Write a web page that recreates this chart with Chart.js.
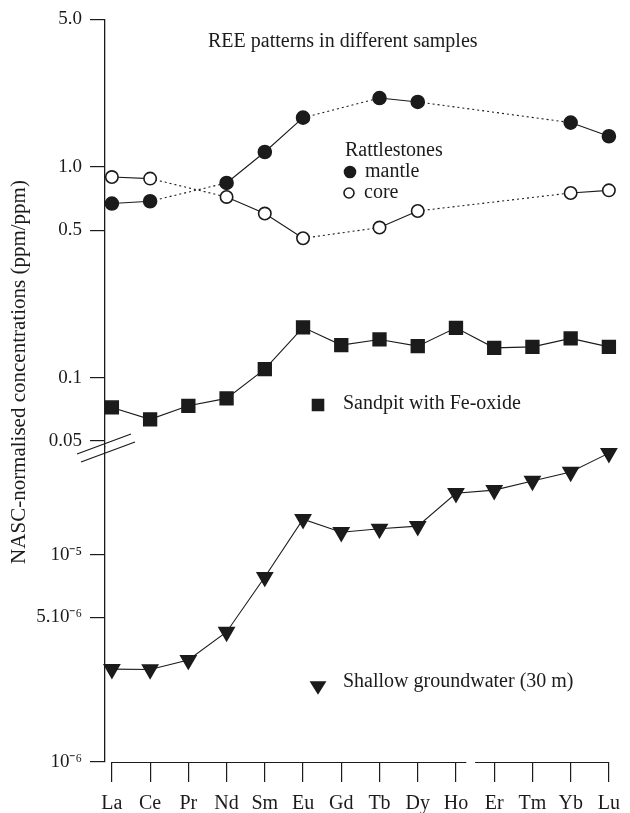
<!DOCTYPE html>
<html><head><meta charset="utf-8">
<script src="https://cdn.jsdelivr.net/npm/chart.js@4.4.1/dist/chart.umd.min.js"></script>
<style>html,body{margin:0;padding:0;background:#fff}canvas{display:block}</style>
</head><body>
<canvas id="c" width="630" height="813"></canvas>
<script>
// ---- data ----
const elements = ['La','Ce','Pr','Nd','Sm','Eu','Gd','Tb','Dy','Ho','Er','Tm','Yb','Lu'];
const mantle      = [0.669, 0.686, null, 0.838, 1.175, 1.71, null, 2.118, 2.03, null, null, null, 1.62, 1.395];
const core        = [0.894, 0.879, null, 0.719, 0.600, 0.458, null, 0.515, 0.617, null, null, null, 0.751, 0.773];
const sandpit     = [0.0722, 0.0634, 0.0735, 0.0797, 0.1097, 0.1731, 0.1426, 0.1517, 0.141, 0.1722, 0.1384, 0.1399, 0.1534, 0.1399];
const groundwater = [2.81e-6, 2.80e-6, 3.11e-6, 4.25e-6, 7.83e-6, 1.49e-5, 1.29e-5, 1.34e-5, 1.38e-5, 1.99e-5, 2.06e-5, 2.28e-5, 2.52e-5, 3.11e-5];
const upperTicks = [0.05, 0.1, 0.5, 1, 5];
const upperTickLabels = ['0.05', '0.1', '0.5', '1.0', '5.0'];
const lowerTicks = [1e-6, 5e-6, 1e-5];
const lowerTickLabels = ['10\u207B\u2076', '5.10\u207B\u2076', '10\u207B\u2075'];
const titleText = 'REE patterns in different samples';
const yTitle = 'NASC-normalised concentrations (ppm/ppm)';

// ---- style ----
const FONT = "'Liberation Serif', 'Times New Roman', serif";
const INK = '#1b1b1b';

function pts(arr){ return arr.map((v,i)=>({x:i, y:v})); }
function ds(label, arr, axis, style, radius, fill, rotation){
  return {
    label, data: pts(arr), xAxisID: 'x', yAxisID: axis,
    borderColor: INK, borderWidth: 1.1, fill: false, tension: 0,
    pointStyle: style, pointRadius: radius, pointHoverRadius: radius,
    pointBackgroundColor: fill, pointBorderColor: INK, pointBorderWidth: 1.6,
    pointRotation: rotation || 0, spanGaps: true, clip: false,
    segment: {
      borderDash: c => ((c.p1DataIndex - c.p0DataIndex > 1) || arr[c.p0DataIndex] == null) ? [2, 3] : undefined
    }
  };
}

function drawMarker(c, style, x, y, r, fill){
  c.save();
  c.fillStyle = fill; c.strokeStyle = INK; c.lineWidth = 1.6;
  c.beginPath();
  if (style === 'circle') { c.arc(x, y, r, 0, Math.PI*2); }
  else if (style === 'rect') { c.rect(x - r, y - r, 2*r, 2*r); }
  else if (style === 'tri') { c.moveTo(x - r, y - r*0.55); c.lineTo(x + r, y - r*0.55); c.lineTo(x, y + r*1.05); c.closePath(); }
  c.fill(); c.stroke();
  c.restore();
}

const annot = {
  id: 'annot',
  afterDraw(chart){
    const c = chart.ctx, xs = chart.scales.x, a = chart.chartArea;
    c.save();
    c.strokeStyle = INK; c.lineWidth = 1.2;
    // x axis line with small gap between Ho and Er
    const yb = a.bottom + 0.5;
    c.beginPath();
    c.moveTo(xs.getPixelForValue(-0.02), yb); c.lineTo(xs.getPixelForValue(9.27), yb);
    c.moveTo(xs.getPixelForValue(9.5), yb); c.lineTo(xs.getPixelForValue(13), yb);
    c.stroke();
    // axis break marks
    c.lineWidth = 1.3;
    c.beginPath();
    c.moveTo(77, 454); c.lineTo(131, 434);
    c.moveTo(81, 462); c.lineTo(135, 442);
    c.stroke();
    // texts
    c.fillStyle = INK;
    c.font = '20px ' + FONT;
    c.textAlign = 'left'; c.textBaseline = 'alphabetic';
    c.fillText(titleText, 208, 47);
    c.fillText('Rattlestones', 345, 156);
    c.fillText('mantle', 365, 177);
    c.fillText('core', 364, 198);
    c.fillText('Sandpit with Fe-oxide', 343, 409);
    c.fillText('Shallow groundwater (30 m)', 343, 687);
    drawMarker(c, 'circle', 350, 172, 5.5, INK);
    drawMarker(c, 'circle', 349, 193, 5, '#fff');
    drawMarker(c, 'rect', 318, 405, 5.5, INK);
    drawMarker(c, 'tri', 318, 686, 7, INK);
    // y title
    c.save();
    c.font = '21px ' + FONT;
    c.translate(19, 372); c.rotate(-Math.PI/2);
    c.textAlign = 'center'; c.textBaseline = 'middle';
    c.fillText(yTitle, 0, 0);
    c.restore();
    c.restore();
  }
};

const yCommon = {
  type: 'logarithmic', position: 'left', stack: 'ystack',
  grid: { drawOnChartArea: false, drawTicks: true, tickLength: 15, color: INK, lineWidth: 1.2 },
  border: { display: true, color: INK, width: 1.3 },
  afterFit: s => { s.width = 105; }
};

new Chart(document.getElementById('c'), {
  type: 'line',
  data: {
    datasets: [
      ds('mantle', mantle, 'yUp', 'circle', 6.5, INK),
      ds('core', core, 'yUp', 'circle', 6.2, '#fff'),
      ds('Sandpit with Fe-oxide', sandpit, 'yUp', 'rect', 9, INK),
      ds('Shallow groundwater (30 m)', groundwater, 'yLow', 'triangle', 8.7, INK, 180)
    ]
  },
  options: {
    responsive: false, animation: false, devicePixelRatio: 1,
    layout: { padding: { left: 0, right: 17, top: 19, bottom: 0 } },
    plugins: { legend: { display: false }, tooltip: { enabled: false }, title: { display: false } },
    scales: {
      x: {
        type: 'linear', min: -0.18, max: 13,
        afterBuildTicks: s => { s.ticks = elements.map((_, i) => ({ value: i })); },
        afterFit: s => { s.height = 51; },
        ticks: { callback: v => elements[v], autoSkip: false, maxRotation: 0, padding: 10,
                 color: INK, font: { family: FONT, size: 20 } },
        grid: { drawOnChartArea: false, drawTicks: true, tickLength: 20, color: INK, lineWidth: 1.2 },
        border: { display: false }
      },
      yUp: Object.assign({}, yCommon, {
        weight: 2, stackWeight: 427, min: 0.04729, max: 5,
        afterBuildTicks: s => { s.ticks = upperTicks.map(v => ({ value: v })); },
        ticks: { callback: v => upperTickLabels[upperTicks.indexOf(v)], autoSkip: false, padding: 8,
                 color: INK, font: { family: FONT, size: 19 } }
      }),
      yLow: Object.assign({}, yCommon, {
        weight: 1, stackWeight: 316, min: 1e-6, max: 3.36e-5,
        afterBuildTicks: s => { s.ticks = lowerTicks.map(v => ({ value: v })); },
        ticks: { callback: v => lowerTickLabels[lowerTicks.indexOf(v)], autoSkip: false, padding: 8,
                 color: INK, font: { family: FONT, size: 19 } }
      })
    }
  },
  plugins: [annot]
});
</script>
</body></html>
